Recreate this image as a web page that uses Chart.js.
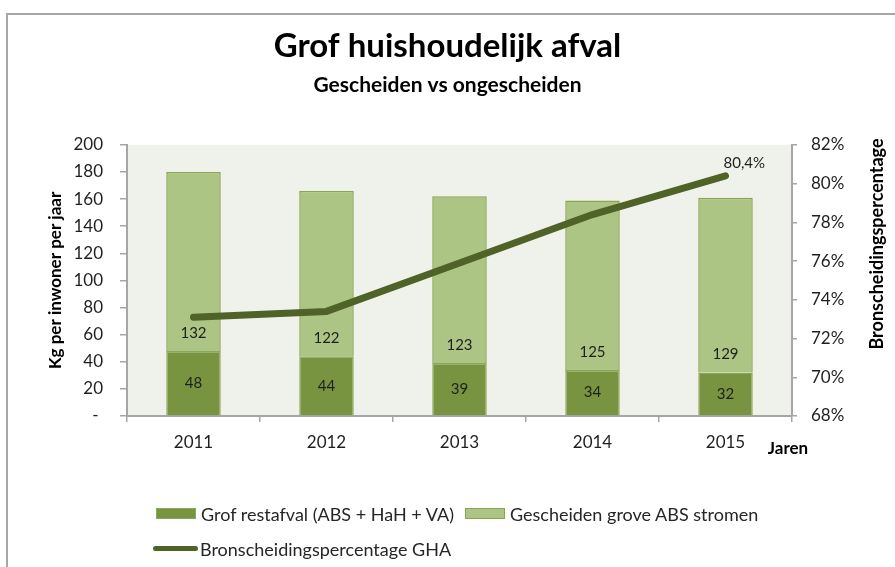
<!DOCTYPE html>
<html>
<head>
<meta charset="utf-8">
<script src="https://cdn.jsdelivr.net/npm/chart.js@4.4.1/dist/chart.umd.min.js"></script>
<style>
  html, body { margin: 0; padding: 0; background: #fff; }
  #wrap { position: relative; width: 895px; height: 567px; overflow: hidden; font-family: Lato, "Open Sans", sans-serif; }
  #frame { position: absolute; left: 6px; top: 13px; width: 1000px; height: 1000px;
           border-top: 2px solid #A6A6A6; border-left: 2px solid #A6A6A6; }
  canvas { position: absolute; left: 0; top: 0; }
  #legend { position: absolute; left: 153px; top: 496px; width: 660px; display: flex; flex-wrap: wrap;
            font-size: 18px; color: #262626; }
  #legend .item { display: flex; align-items: center; height: 35px; margin-right: 8px; white-space: nowrap; }
  #legend .sw { display: inline-block; margin-right: 5px; box-sizing: border-box; }
  #legend .box { width: 40px; height: 11px; border: 1px solid; margin-left: 3px; }
  #legend .line { width: 45px; height: 5px; border-radius: 3px; margin-right: 2px; }
</style>
</head>
<body>
<div id="wrap">
  <div id="frame"></div>
  <canvas id="chart" width="895" height="567"></canvas>
  <div id="legend"></div>
</div>
<script>
// data
const years = ["2011", "2012", "2013", "2014", "2015"];
const restafval = [48, 44, 39, 34, 32];
const gescheiden = [132, 122, 123, 125, 129];
const percentage = [73.1, 73.4, 75.9, 78.4, 80.4];

const kgMin = 0, kgMax = 200, kgStep = 20;
const pctMin = 68, pctMax = 82, pctStep = 2;

const FONT = "Lato";
const TEXT = "#1f1f1f";
const AXIS = "#A6A6A6";

// background, data labels and the extra axis texts
const extras = {
    id: "extras",
    beforeDraw: function (chart) {
        const a = chart.chartArea;
        const ctx = chart.ctx;
        ctx.save();
        ctx.fillStyle = "#EFF2EA";
        ctx.fillRect(a.left, a.top, a.right - a.left, a.bottom - a.top);
        ctx.restore();
    },
    afterDatasetsDraw: function (chart) {
        const ctx = chart.ctx;
        ctx.save();
        ctx.font = "15px " + FONT;
        ctx.fillStyle = TEXT;
        ctx.textAlign = "center";
        ctx.textBaseline = "middle";

        chart.getDatasetMeta(0).data.forEach(function (bar, i) {
            ctx.fillText(restafval[i], bar.x, (bar.y + bar.base) / 2);
        });
        chart.getDatasetMeta(1).data.forEach(function (bar, i) {
            ctx.fillText(gescheiden[i], bar.x, bar.base - 18);
        });

        // only the last point of the line has a label
        const pts = chart.getDatasetMeta(2).data;
        const last = pts[pts.length - 1];
        ctx.textAlign = "left";
        ctx.fillText(percentage[percentage.length - 1].toFixed(1).replace(".", ",") + "%", last.x - 2, last.y - 13);
        ctx.restore();
    },
    afterDraw: function (chart) {
        const ctx = chart.ctx;
        ctx.save();
        ctx.font = "bold 17px " + FONT;
        ctx.fillStyle = "#000";
        ctx.textAlign = "center";
        ctx.textBaseline = "middle";
        ctx.fillText("Jaren", 788, 449);

        ctx.font = "bold 18px " + FONT;
        ctx.translate(877, 244);
        ctx.rotate(-Math.PI / 2);
        ctx.fillText("Bronscheidingspercentage", 0, 0);
        ctx.restore();
    }
};

const chart = new Chart(document.getElementById("chart"), {
    type: "bar",
    data: {
        labels: years,
        datasets: [{
            label: "Grof restafval (ABS + HaH + VA)",
            data: restafval,
            backgroundColor: "#789440",
            borderColor: "#8DA75A",
            borderWidth: 1.5,
            stack: "kg",
            order: 1,
            yAxisID: "y"
        }, {
            label: "Gescheiden grove ABS stromen",
            data: gescheiden,
            backgroundColor: "#ADC584",
            borderColor: "#8AA552",
            borderWidth: 1.5,
            stack: "kg",
            order: 1,
            yAxisID: "y"
        }, {
            type: "line",
            label: "Bronscheidingspercentage GHA",
            data: percentage,
            borderColor: "#4F6228",
            backgroundColor: "#4F6228",
            borderWidth: 7,
            borderCapStyle: "round",
            borderJoinStyle: "round",
            pointRadius: 0,
            tension: 0,
            order: 0,
            yAxisID: "y1"
        }]
    },
    plugins: [extras],
    options: {
        responsive: false,
        animation: false,
        devicePixelRatio: 1,
        layout: { padding: 0 },
        datasets: {
            bar: { categoryPercentage: 1, barPercentage: 0.41 }
        },
        plugins: {
            legend: { display: false },
            tooltip: { enabled: false },
            title: {
                display: true,
                text: "Grof huishoudelijk afval",
                color: "#000",
                font: { family: FONT, size: 33, weight: "bold" },
                padding: { top: 27, bottom: 3 }
            },
            subtitle: {
                display: true,
                text: "Gescheiden vs ongescheiden",
                color: "#000",
                font: { family: FONT, size: 21, weight: "bold" },
                padding: { top: 3, bottom: 47 }
            }
        },
        scales: {
            x: {
                stacked: true,
                offset: true,
                grid: { offset: true, drawOnChartArea: false, tickLength: 6, color: AXIS, lineWidth: 1.5 },
                border: { display: true, color: AXIS, width: 2 },
                ticks: { color: TEXT, font: { family: FONT, size: 17 }, padding: 10 },
                afterFit: function (scale) { scale.height = 151; }
            },
            y: {
                position: "left",
                stacked: true,
                min: kgMin,
                max: kgMax,
                grid: { drawOnChartArea: false, tickLength: 7, color: AXIS, lineWidth: 1.5 },
                border: { display: true, color: AXIS, width: 2 },
                ticks: {
                    stepSize: kgStep,
                    color: TEXT,
                    font: { family: FONT, size: 17 },
                    padding: 17,
                    callback: function (v) { return v === 0 ? "- " : v; }
                },
                title: {
                    display: true,
                    text: "Kg per inwoner per jaar",
                    color: "#000",
                    font: { family: FONT, size: 17, weight: "bold" },
                    padding: { top: 45, bottom: 0 }
                },
                afterFit: function (scale) { scale.width = 127; }
            },
            y1: {
                position: "right",
                min: pctMin,
                max: pctMax,
                grid: { drawOnChartArea: false, tickLength: 5, color: AXIS, lineWidth: 1.5 },
                border: { display: true, color: AXIS, width: 2 },
                ticks: {
                    stepSize: pctStep,
                    color: TEXT,
                    font: { family: FONT, size: 17 },
                    padding: 14,
                    callback: function (v) { return v + "%"; }
                },
                afterFit: function (scale) { scale.width = 103; }
            }
        }
    }
});

// html legend built from the datasets
const legendEl = document.getElementById("legend");
chart.data.datasets.forEach(function (ds) {
    const item = document.createElement("span");
    item.className = "item";
    const sw = document.createElement("span");
    if (ds.type === "line") {
        sw.className = "sw line";
        sw.style.background = ds.borderColor;
    } else {
        sw.className = "sw box";
        sw.style.background = ds.backgroundColor;
        sw.style.borderColor = ds.borderColor;
    }
    item.appendChild(sw);
    item.appendChild(document.createTextNode(ds.label));
    legendEl.appendChild(item);
});
</script>
</body>
</html>
